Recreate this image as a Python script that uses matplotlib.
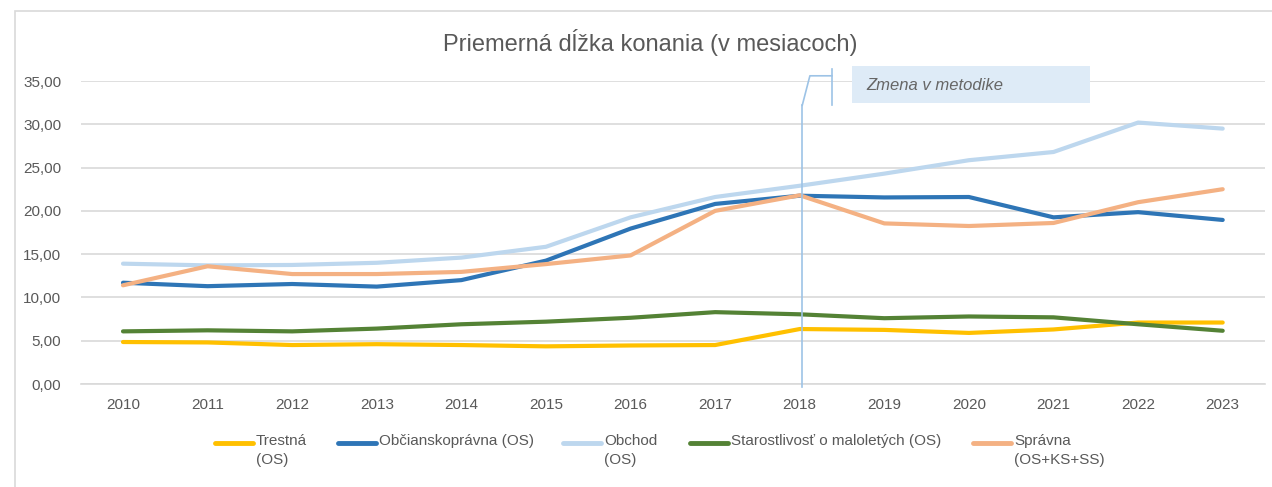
import numpy as np
import matplotlib
matplotlib.use("Agg")
import matplotlib.pyplot as plt
from matplotlib.patches import Rectangle
from matplotlib.lines import Line2D

plt.rcParams['font.family'] = ['Liberation Sans', 'DejaVu Sans']

years = [2010, 2011, 2012, 2013, 2014, 2015, 2016, 2017, 2018, 2019, 2020, 2021, 2022, 2023]
trestna = [4.85, 4.8, 4.5, 4.6, 4.5, 4.35, 4.45, 4.5, 6.35, 6.25, 5.9, 6.3, 7.1, 7.1]
obcianskopravna = [11.7, 11.3, 11.55, 11.25, 12.0, 14.25, 17.95, 20.8, 21.75, 21.55, 21.6, 19.25, 19.85, 18.95]
obchod = [13.9, 13.7, 13.75, 14.0, 14.6, 15.85, 19.25, 21.6, 22.9, 24.3, 25.85, 26.8, 30.2, 29.5]
starostlivost = [6.08, 6.2, 6.08, 6.4, 6.9, 7.2, 7.65, 8.3, 8.05, 7.6, 7.8, 7.7, 6.9, 6.15]
spravna = [11.4, 13.6, 12.7, 12.7, 12.95, 13.85, 14.85, 20.0, 21.8, 18.55, 18.25, 18.6, 21.0, 22.5]

labels = ["Trestná\n(OS)", "Občianskoprávna (OS)", "Obchod\n(OS)",
          "Starostlivosť o maloletých (OS)", "Správna\n(OS+KS+SS)"]
colors = ["#FFC000", "#2E75B6", "#BDD7EE", "#548235", "#F4B183"]
series = [trestna, obcianskopravna, obchod, starostlivost, spravna]

W, H = 1272, 487
fig = plt.figure(figsize=(W / 100, H / 100), dpi=100)
ax = fig.add_axes([80.7 / W, 1 - 384 / H, (1265 - 80.7) / W, (384 - 81) / H])

x = np.arange(len(years))
for vals, c, lab in zip(series, colors, labels):
    ax.plot(x, vals, color=c, lw=3, label=lab, solid_capstyle='round', zorder=3)

ax.set_xlim(-0.5, len(years) - 0.5)
ax.set_ylim(0, 35)
ax.set_yticks(np.arange(0, 36, 5))
ax.set_yticklabels([f"{v:.2f}".replace(".", ",") for v in np.arange(0, 36, 5)])
ax.set_xticks(x)
ax.set_xticklabels([str(y) for y in years])
ax.tick_params(length=0, labelsize=11, colors="#595959", pad=10)
ax.tick_params(axis='y', pad=14)
ax.grid(axis='y', color="#D9D9D9", lw=1.2)
ax.set_axisbelow(True)
for s in ax.spines.values():
    s.set_visible(False)
ax.spines['bottom'].set_visible(True)
ax.spines['bottom'].set_color("#D9D9D9")
ax.spines['bottom'].set_linewidth(1.2)

# annotation: method change at 2018
xi = years.index(2018)
ax.plot([xi + 0.03, xi + 0.03], [-0.4, 32.2], color="#9DC3E6", lw=1.2, clip_on=False, zorder=4)
ax.plot([xi + 0.03, xi + 0.12, xi + 0.38], [32.2, 35.6, 35.6], color="#9DC3E6", lw=1.2, clip_on=False, zorder=4)
ax.plot([xi + 0.38, xi + 0.38], [32.2, 36.4], color="#9DC3E6", lw=1.2, clip_on=False, zorder=4)
fig.patches.append(Rectangle((852 / W, 1 - 103 / H), (1090 - 852) / W, 37 / H,
                             transform=fig.transFigure, facecolor="#DEEBF7", edgecolor="none", zorder=1))
fig.text(866 / W, 1 - 85 / H, "Zmena v metodike", style='italic', fontsize=12,
         color="#666666", va='center', ha='left')

# chart border
fig.patches.append(Rectangle((15 / W, -0.1), 1.2, 1 - 11 / H + 0.1, transform=fig.transFigure,
                             facecolor="none", edgecolor="#D9D9D9", lw=1.2, zorder=0))

fig.text(650 / W, 1 - 42 / H, "Priemerná dĺžka konania (v mesiacoch)", ha='center', va='center',
         fontsize=17, color="#595959")

# legend laid out like the original (handle aligned with first text line)
leg_x = [215, 338, 563, 690, 973]
leg_y = 443
for lx, c, lab in zip(leg_x, colors, labels):
    fig.add_artist(Line2D([lx / W, (lx + 38) / W], [1 - leg_y / H] * 2, color=c, lw=3.5,
                          solid_capstyle='round', transform=fig.transFigure))
    fig.text((lx + 41) / W, 1 - (leg_y - 9) / H, lab, ha='left', va='top', fontsize=11,
             color="#595959", linespacing=1.45)

fig.savefig("out.png", dpi=100)
